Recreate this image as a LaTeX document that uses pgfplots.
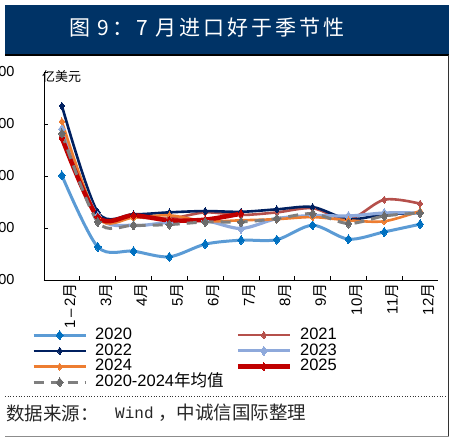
\documentclass[border=0pt]{standalone}
\usepackage{pgfplots}
\pgfplotsset{compat=1.18}
\usepackage{fontspec}
\setmainfont{Liberation Sans}
\newfontfamily\cjk{Noto Sans CJK SC}
\newfontfamily\cjktitle[LetterSpace=14]{Noto Sans CJK SC}
\newfontfamily\monof{Liberation Mono}
\definecolor{titlebg}{HTML}{003366}
\definecolor{cA}{HTML}{5B9BD5}
\definecolor{cAm}{HTML}{0070C0}
\definecolor{cB}{HTML}{B5504B}
\definecolor{cC}{HTML}{002060}
\definecolor{cD}{HTML}{8EA9DB}
\definecolor{cE}{HTML}{ED7D31}
\definecolor{cF}{HTML}{C00000}
\definecolor{cG}{HTML}{7F7F7F}
\definecolor{cGm}{HTML}{6B6B6B}
\begin{document}
\begin{tikzpicture}
\useasboundingbox (0,0) rectangle (457pt,441pt);
\clip (0,0) rectangle (457pt,441pt);
% title bar
\fill[titlebg] (5pt,386pt) rectangle (449pt,436pt);
\draw[black,line width=2pt] (5pt,386pt) -- (449pt,386pt);
\node[anchor=west,text=white,inner sep=0pt,font=\cjktitle\fontsize{21}{24}\selectfont] at (69pt,413pt) {图 9：7 月进口好于季节性};
% frame lines
\draw[black!80,line width=0.8pt] (448.5pt,386pt) -- (448.5pt,5pt);
\draw[black!45,line width=0.8pt] (5pt,5pt) -- (449pt,5pt);
\draw[black!80,line width=0.7pt,dotted] (5pt,45pt) -- (448pt,45pt);
% source
\node[anchor=west,inner sep=0pt,font=\cjk\fontsize{18.5}{20}\selectfont,text=black!85] at (6pt,28pt) {数据来源：};
\node[anchor=west,inner sep=0pt,font=\monof\fontsize{16}{20}\selectfont,text=black!85] at (115pt,28pt) {Wind};
\node[anchor=west,inner sep=0pt,font=\cjk\fontsize{18.5}{20}\selectfont,text=black!85] at (158pt,28pt) {，中诚信国际整理};
% unit
\node[anchor=west,inner sep=0pt,font=\cjk\fontsize{13}{15}\selectfont] at (42pt,364pt) {亿美元};
\begin{axis}[
  at={(44pt,161pt)}, anchor=south west,
  scale only axis, width=394pt, height=208pt,
  xmin=-0.5, xmax=10.5, ymin=1000, ymax=5000,
  axis x line*=bottom, axis y line*=left,
  axis line style={black, line width=0.9pt},
  tick align=inside,
  ytick={1000,2000,3000,4000,5000},
  major tick length=4pt,
  minor tick length=4pt,
  xtick={0,...,10},
  major x tick style={draw=none},
  minor xtick={0.5,1.5,...,9.5},
  minor x tick style={black, line width=0.8pt},
  major y tick style={black, line width=0.8pt},
  xticklabels={1\,\textendash\,2{\cjk 月},3{\cjk 月},4{\cjk 月},5{\cjk 月},6{\cjk 月},7{\cjk 月},8{\cjk 月},9{\cjk 月},10{\cjk 月},11{\cjk 月},12{\cjk 月}},
  xticklabel style={rotate=90, anchor=east, font=\fontsize{15}{17}\selectfont, yshift=-8pt},
  yticklabel style={font=\fontsize{14.5}{17}\selectfont, xshift=-26pt},
  /pgf/number format/assume math mode=true,
  /pgf/number format/1000 sep={},
  clip=false,
  every axis plot/.append style={smooth, mark=diamond*},
  legend columns=2,
  legend cell align=left,
  legend style={at={(-0.038,-0.217)}, anchor=north west, draw=none, fill=none,
     font=\fontsize{16.5}{17}\selectfont,
     nodes={inner sep=0pt, text height=12pt, text depth=3.7pt},
     /tikz/every even column/.append style={column sep=12pt}},
  legend image code/.code={\draw[#1, mark repeat=2, mark phase=2] plot[sharp plot] coordinates {(0pt,0pt)(26pt,0pt)(52pt,0pt)}; \path (60pt,0pt);},
]
\addplot[color=cA, line width=3pt, mark size=4.5pt, mark options={solid, fill=cAm, draw=cAm, line width=0pt}] coordinates {(0,3010)(1,1637)(2,1555)(3,1446)(4,1689)(5,1766)(6,1775)(7,2053)(8,1785)(9,1925)(10,2072)};
\addlegendentry{2020}
\addplot[color=cB, line width=2.6pt, mark size=3.5pt, mark options={solid, fill=cB, draw=cB, line width=0pt}] coordinates {(0,3784)(1,2250)(2,2210)(3,2180)(4,2300)(5,2250)(6,2300)(7,2380)(8,2160)(9,2545)(10,2468)};
\addlegendentry{2021}
\addplot[color=cC, line width=2.6pt, mark size=3.5pt, mark options={solid, fill=cC, draw=cC, line width=0pt}] coordinates {(0,4349)(1,2307)(2,2263)(3,2301)(4,2326)(5,2311)(6,2359)(7,2403)(8,2170)(9,2260)(10,2290)};
\addlegendentry{2022}
\addplot[color=cD, line width=3.2pt, mark size=4.5pt, mark options={solid, fill=cD, draw=cD, line width=0pt}] coordinates {(0,3903)(1,2230)(2,2050)(3,2110)(4,2140)(5,1990)(6,2180)(7,2240)(8,2231)(9,2289)(10,2289)};
\addlegendentry{2023}
\addplot[color=cE, line width=2.6pt, mark size=3.5pt, mark options={solid, fill=cE, draw=cE, line width=0pt}] coordinates {(0,4049)(1,2200)(2,2200)(3,2244)(4,2130)(5,2148)(6,2170)(7,2210)(8,2148)(9,2129)(10,2326)};
\addlegendentry{2024}
\addplot[color=cF, line width=4.5pt, mark size=3.8pt, mark options={solid, fill=cF, draw=cF, line width=0pt}] coordinates {(0,3731)(1,2212)(2,2244)(3,2148)(4,2160)(5,2276)};
\addlegendentry{2025}
\addplot[color=cG, line width=3pt, dash pattern=on 10pt off 7pt, mark size=4.5pt, mark options={solid, fill=cGm, draw=cGm, line width=0pt}] coordinates {(0,3819)(1,2116)(2,2053)(3,2066)(4,2116)(5,2116)(6,2180)(7,2276)(8,2085)(9,2231)(10,2289)};
\addlegendentry{2020-2024{\cjk 年均值}}
\end{axis}
\end{tikzpicture}
\end{document}
